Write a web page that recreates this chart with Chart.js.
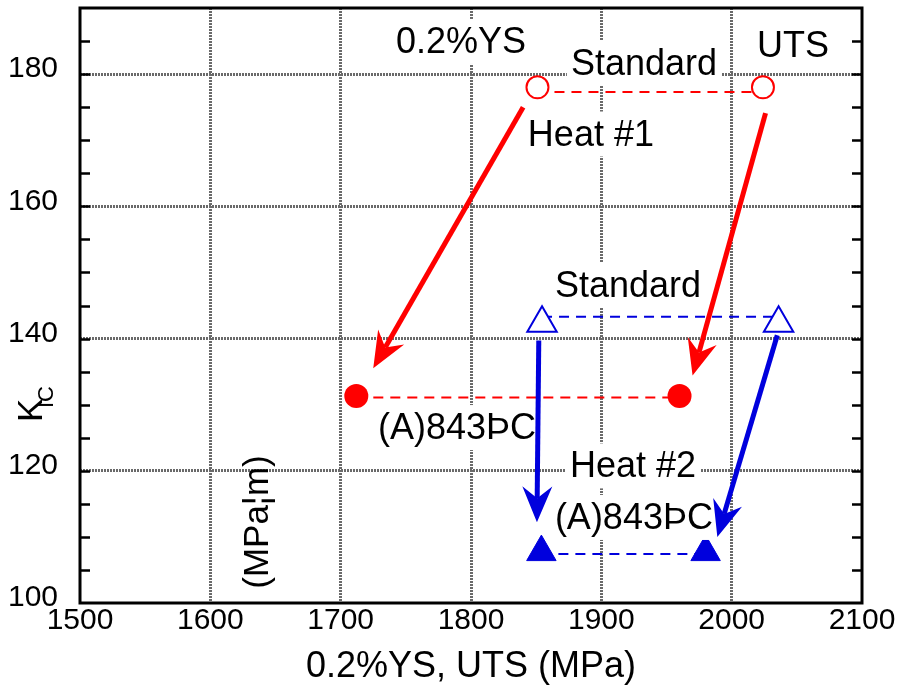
<!DOCTYPE html>
<html>
<head>
<meta charset="utf-8">
<script src="https://cdn.jsdelivr.net/npm/chart.js@4.4.1/dist/chart.umd.min.js"></script>
<style>
  html, body { margin: 0; padding: 0; background: #fff; }
  #wrap { width: 898px; height: 693px; }
</style>
</head>
<body>
<div id="wrap"><canvas id="kcChart" width="898" height="693"></canvas></div>
<script>
// --- DATA ---
const xTicks = [1500, 1600, 1700, 1800, 1900, 2000, 2100];
const yTicks = [100, 120, 140, 160, 180];

// Heat #1 (circles): [0.2%YS, UTS] vs Kc
const heat1StdX = [1851, 2024];
const heat1StdK = [178, 178];
const heat1AgedX = [1712, 1960];
const heat1AgedK = [131.3, 131.3];

// Heat #2 (triangles)
const heat2StdX = [1854.5, 2036];
const heat2StdK = [142.3, 142.3];
const heat2AgedX = [1854, 1980];
const heat2AgedK = [107.7, 107.7];

// dashed tie lines between YS and UTS
const heat1StdTieK = [177.3, 177.3];
const heat1AgedTieK = [131.1, 131.1];
const heat2StdTieK = [143.3, 143.3];
const heat2AgedTieK = [107.4, 107.4];

// arrows: standard -> (A)843 (from x, from Kc, to x, to Kc)
const heat1Arrows = [[1840, 175.0, 1725, 135.5], [2026, 174.1, 1970, 134.4]];
const heat2Arrows = [[1852, 139.7, 1850.6, 112.2], [2035, 140.5, 1989, 110.0]];

// text notes placed in data units
const notes = [
  { text: '0.2%YS', x: 1792.3, k: 184.7 },
  { text: 'UTS', x: 2047, k: 184.1 },
  { text: 'Standard', x: 1932.7, k: 181.4 },
  { text: 'Heat #1', x: 1892, k: 170.7 },
  { text: 'Standard', x: 1920.5, k: 147.8 },
  { text: '(A)843ÞC', x: 1789.3, k: 126.3 },
  { text: 'Heat #2', x: 1924.3, k: 120.5 },
  { text: '(A)843ÞC', x: 1925, k: 112.7 }
];

const RED = '#ff0000';
const BLUE = '#0000dd';
const GRID = '#6a6a6a';
const FONT = "'Liberation Sans', Arial, sans-serif";

const pts = (xs, ks) => xs.map((v, i) => ({ x: v, y: ks[i] }));

function drawArrow(ctx, x0, y0, x1, y1, color) {
  const ang = Math.atan2(y1 - y0, x1 - x0);
  const c = Math.cos(ang), s = Math.sin(ang);
  const L = 36, W = 15, notch = 24;
  const bx = x1 - L * c, by = y1 - L * s;
  const nx = x1 - notch * c, ny = y1 - notch * s;
  ctx.strokeStyle = color;
  ctx.lineWidth = 5;
  ctx.beginPath();
  ctx.moveTo(x0, y0);
  ctx.lineTo(nx, ny);
  ctx.stroke();
  ctx.fillStyle = color;
  ctx.beginPath();
  ctx.moveTo(x1, y1);
  ctx.lineTo(bx - W * s, by + W * c);
  ctx.lineTo(nx, ny);
  ctx.lineTo(bx + W * s, by - W * c);
  ctx.closePath();
  ctx.fill();
}

const decorPlugin = {
  id: 'decor',
  afterDatasetsDraw(chart) {
    const { ctx, scales: { x, y } } = chart;
    ctx.save();
    // notes with white boxes
    ctx.font = `36px ${FONT}`;
    ctx.textAlign = 'center';
    ctx.textBaseline = 'middle';
    notes.forEach(n => {
      const px = x.getPixelForValue(n.x), py = y.getPixelForValue(n.k);
      const m = ctx.measureText(n.text);
      const asc = m.fontBoundingBoxAscent || 20, desc = m.fontBoundingBoxDescent || 20;
      ctx.fillStyle = '#fff';
      ctx.fillRect(px - m.width / 2 - 4, py - asc - 1, m.width + 8, asc + desc + 4);
      ctx.fillStyle = '#000';
      ctx.fillText(n.text, px, py);
    });
    // arrows
    heat1Arrows.forEach(a => drawArrow(ctx, x.getPixelForValue(a[0]), y.getPixelForValue(a[1]),
      x.getPixelForValue(a[2]), y.getPixelForValue(a[3]), RED));
    heat2Arrows.forEach(a => drawArrow(ctx, x.getPixelForValue(a[0]), y.getPixelForValue(a[1]),
      x.getPixelForValue(a[2]), y.getPixelForValue(a[3]), BLUE));
    ctx.restore();
  },
  afterDraw(chart) {
    const { ctx, chartArea: a, scales: { y } } = chart;
    ctx.save();
    // frame
    ctx.strokeStyle = '#000';
    ctx.lineWidth = 3;
    ctx.strokeRect(a.left, a.top, a.right - a.left, a.bottom - a.top);
    // inward ticks every 5 on both sides
    ctx.lineWidth = 2.5;
    for (let v = 105; v < 190; v += 5) {
      const py = Math.round(y.getPixelForValue(v)) + 0.5;
      ctx.beginPath();
      ctx.moveTo(a.left, py); ctx.lineTo(a.left + 10, py);
      ctx.moveTo(a.right, py); ctx.lineTo(a.right - 10, py);
      ctx.stroke();
    }
    // y title K_IC
    ctx.fillStyle = '#000';
    ctx.textAlign = 'left';
    ctx.textBaseline = 'alphabetic';
    ctx.save();
    ctx.translate(42, 422);
    ctx.rotate(-Math.PI / 2);
    ctx.font = `35px ${FONT}`;
    ctx.fillText('K', 0, 0);
    ctx.font = `22px ${FONT}`;
    ctx.fillText('IC', 14, 11);
    ctx.restore();
    // stray unit label
    ctx.save();
    ctx.translate(258, 522);
    ctx.rotate(-Math.PI / 2);
    ctx.font = `35px ${FONT}`;
    ctx.textAlign = 'center';
    ctx.textBaseline = 'middle';
    ctx.fillText('(MPa¦m)', 0, 0);
    ctx.restore();
    ctx.restore();
  }
};

const gridColor = edges => ctx => (ctx.tick && edges.includes(ctx.tick.value)) ? 'rgba(0,0,0,0)' : GRID;

new Chart(document.getElementById('kcChart'), {
  type: 'scatter',
  data: {
    datasets: [
      { label: 'Heat #1 standard', data: pts(heat1StdX, heat1StdK), pointStyle: 'circle', pointRadius: 11,
        pointBorderWidth: 2, pointBorderColor: RED, pointBackgroundColor: '#fff' },
      { label: 'Heat #1 (A)843', data: pts(heat1AgedX, heat1AgedK), pointStyle: 'circle', pointRadius: 12,
        pointBorderWidth: 0, pointBorderColor: RED, pointBackgroundColor: RED },
      { label: 'Heat #2 standard', data: pts(heat2StdX, heat2StdK), pointStyle: 'triangle', pointRadius: 17,
        pointBorderWidth: 2, pointBorderColor: BLUE, pointBackgroundColor: '#fff' },
      { label: 'Heat #2 (A)843', data: pts(heat2AgedX, heat2AgedK), pointStyle: 'triangle', pointRadius: 17,
        pointBorderWidth: 1, pointBorderColor: BLUE, pointBackgroundColor: BLUE },
      { data: pts(heat1StdX, heat1StdTieK), showLine: true, borderColor: RED, borderWidth: 2, borderDash: [10, 7], pointRadius: 0 },
      { data: pts(heat1AgedX, heat1AgedTieK), showLine: true, borderColor: RED, borderWidth: 2, borderDash: [10, 7], pointRadius: 0 },
      { data: pts(heat2StdX, heat2StdTieK), showLine: true, borderColor: BLUE, borderWidth: 2, borderDash: [10, 7], pointRadius: 0 },
      { data: pts(heat2AgedX, heat2AgedTieK), showLine: true, borderColor: BLUE, borderWidth: 2, borderDash: [10, 7], pointRadius: 0 }
    ]
  },
  options: {
    responsive: false,
    animation: false,
    layout: { autoPadding: false, padding: { top: 8, right: 36, left: 0, bottom: 0 } },
    plugins: { legend: { display: false }, tooltip: { enabled: false } },
    scales: {
      x: {
        type: 'linear', min: 1500, max: 2100,
        afterBuildTicks: s => { s.ticks = xTicks.map(v => ({ value: v })); },
        afterFit: s => { s.height = 90; s.paddingLeft = 0; s.paddingRight = 0; },
        ticks: { font: { family: FONT, size: 30 }, color: '#000', padding: 0, maxRotation: 0, autoSkip: false,
          callback: v => String(v) },
        grid: { color: gridColor([1500, 2100]), lineWidth: 3, drawTicks: false },
        border: { display: false, dash: [2, 1] },
        title: { display: true, text: '0.2%YS, UTS (MPa)', font: { family: FONT, size: 36 }, color: '#000',
          padding: { top: 0, bottom: 4 } }
      },
      y: {
        type: 'linear', min: 100, max: 190,
        afterBuildTicks: s => { s.ticks = yTicks.map(v => ({ value: v })); },
        afterFit: s => { s.width = 80; s.paddingTop = 0; s.paddingBottom = 0; },
        ticks: { font: { family: FONT, size: 30 }, color: '#000', padding: 22, labelOffset: -5, autoSkip: false,
          callback: v => String(v) },
        grid: { color: gridColor([100]), lineWidth: 3, drawTicks: false },
        border: { display: false, dash: [2, 1] }
      }
    }
  },
  plugins: [decorPlugin]
});
</script>
</body>
</html>
